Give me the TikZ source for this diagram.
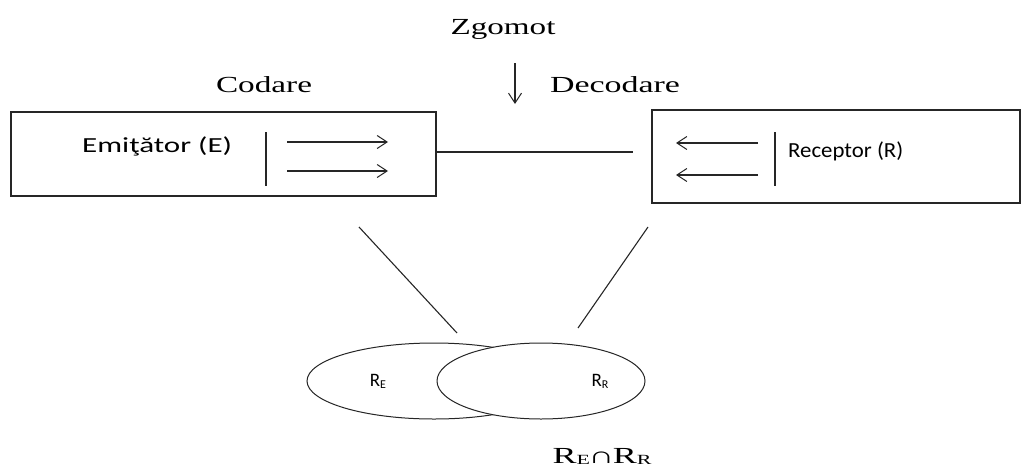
\documentclass[tikz,border=0pt]{standalone}
\usepackage{fontspec}
\setmainfont{Liberation Serif}
\newfontfamily\calib{Carlito}
\usetikzlibrary{arrows.meta,shapes.geometric}
\newcommand\wtext[2]{\resizebox{#1}{\height}{#2}}
\tikzset{
  ln/.style={draw=black!85, line width=1.1pt},
  arr/.style={ln, -{Straight Barb[length=10pt,width=13pt,line width=1pt]}},
  boxst/.style={ln, rectangle, inner sep=0pt, fill=white},
  serif/.style={font=\fontsize{23}{26}\selectfont, inner sep=0pt},
  sans/.style={font=\calib\fontsize{21.5}{24}\selectfont, inner sep=0pt},
  ell/.style={ln, line width=1pt, ellipse, inner sep=0pt, fill=white},
}
\begin{document}
\begin{tikzpicture}[x=1pt,y=-1pt]
\useasboundingbox (0,0) rectangle (1022,466);
% boxes
\node[boxst, minimum width=425pt, minimum height=84pt] (E) at (223.5,154) {};
\node[boxst, minimum width=368pt, minimum height=93pt] (R) at (836,156.5) {};
% texts in boxes
\node[sans, anchor=base west] (Et) at (82,152) {\wtext{150pt}{Emiţător (E)}};
\node[sans, anchor=base west] (Rt) at (788,157) {\wtext{115pt}{Receptor (R)}};
% bars
\coordinate (eb1) at (266,132); \coordinate (eb2) at (266,186);
\draw[ln] (eb1) -- (eb2);
\coordinate (rb1) at (775,132); \coordinate (rb2) at (775,186);
\draw[ln] (rb1) -- (rb2);
% arrows in boxes
\coordinate (ea1) at (287,142); \coordinate (ea2) at (388,142);
\coordinate (ea3) at (287,171); \coordinate (ea4) at (388,171);
\draw[arr] (ea1) -- (ea2);
\draw[arr] (ea3) -- (ea4);
\coordinate (ra1) at (758,143); \coordinate (ra2) at (676,143);
\coordinate (ra3) at (758,175); \coordinate (ra4) at (676,175);
\draw[arr] (ra1) -- (ra2);
\draw[arr] (ra3) -- (ra4);
% channel line
\coordinate (chend) at (633,152);
\draw[ln] (E.east |- chend) -- (chend);
% top labels
\node[serif, anchor=base] (Z) at (503,34) {\wtext{105pt}{Zgomot}};
\node[serif, anchor=base] (C) at (264,92) {\wtext{96pt}{Codare}};
\node[serif, anchor=base] (D) at (615,92) {\wtext{130pt}{Decodare}};
\coordinate (za) at (515,63); \coordinate (zb) at (515,104);
\draw[arr] (za) -- (zb);
% ellipses
\node[ell, minimum width=254pt, minimum height=76pt] (RE) at (434,381) {};
\node[ell, minimum width=208pt, minimum height=76pt] (RR) at (541,381) {};
\node[sans, anchor=base] (REt) at (378,386) {\fontsize{19}{22}\selectfont R\raisebox{-2pt}{\fontsize{12}{14}\selectfont E}};
\node[sans, anchor=base] (RRt) at (600,386) {\fontsize{19}{22}\selectfont R\raisebox{-2pt}{\fontsize{12}{14}\selectfont R}};
% diagonals
\coordinate (d1a) at (359,227); \coordinate (d1b) at (457,333);
\coordinate (d2a) at (648,227); \coordinate (d2b) at (578,328);
\draw[ln] (d1a) -- (d1b);
\draw[ln] (d2a) -- (d2b);
% intersection label
\node[serif, anchor=base] (I) at (602,463) {\wtext{99pt}{R\raisebox{-1pt}{\fontsize{14}{16}\selectfont E}\kern-1pt∩\kern-1ptR\raisebox{-1pt}{\fontsize{14}{16}\selectfont R}}};
\end{tikzpicture}
\end{document}
